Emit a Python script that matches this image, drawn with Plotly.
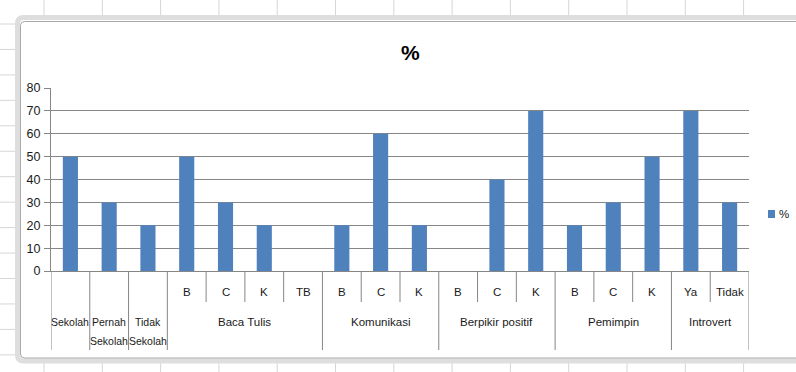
import plotly.graph_objects as go

# ---- data ----
categories = ["Sekolah", "Pernah Sekolah", "Tidak Sekolah",
              "B", "C", "K", "TB",
              "B", "C", "K",
              "B", "C", "K",
              "B", "C", "K",
              "Ya", "Tidak"]
groups = [None, None, None,
          "Baca Tulis", "Baca Tulis", "Baca Tulis", "Baca Tulis",
          "Komunikasi", "Komunikasi", "Komunikasi",
          "Berpikir positif", "Berpikir positif", "Berpikir positif",
          "Pemimpin", "Pemimpin", "Pemimpin",
          "Introvert", "Introvert"]
values = [50, 30, 20, 50, 30, 20, 0, 20, 60, 20, 0, 40, 70, 20, 30, 50, 70, 30]
series_name = "%"
y_ticks = [0, 10, 20, 30, 40, 50, 60, 70, 80]

# ---- geometry (pixels) ----
WIDTH, HEIGHT = 796, 372
L, R, T, B = 51, 47, 88, 101
PW = WIDTH - L - R
PH = HEIGHT - T - B
FONT = "Liberation Sans, Arial, sans-serif"
BAR = "#4F81BD"
AXC = "#868686"
TXT = "#1a1a1a"


def px(x):
    return (x - L) / PW


def py(y):
    return (HEIGHT - B - y) / PH


n = len(categories)
xs = list(range(n))

fig = go.Figure()
fig.add_trace(go.Bar(x=xs, y=values, name=series_name, marker_color=BAR,
                     marker_line_width=0, showlegend=False))

shapes = []
annotations = []

# spreadsheet background grid
grid_c = "#d6d6d6"
xg = 44.0
while xg < WIDTH:
    shapes.append(dict(type="line", xref="paper", yref="paper", x0=px(xg), x1=px(xg),
                       y0=py(0), y1=py(17), line=dict(color=grid_c, width=1), layer="below"))
    shapes.append(dict(type="line", xref="paper", yref="paper", x0=px(xg), x1=px(xg),
                       y0=py(362), y1=py(372), line=dict(color=grid_c, width=1), layer="below"))
    xg += 58.3
yg = 24.0
while yg < HEIGHT:
    shapes.append(dict(type="line", xref="paper", yref="paper", x0=px(0), x1=px(16),
                       y0=py(yg), y1=py(yg), line=dict(color=grid_c, width=1), layer="below"))
    yg += 25.45

# chart frame
def frame_path(x0, y0, x1, y1, r):
    return (f"M {px(x0 + r)},{py(y0)} L {px(x1)},{py(y0)} L {px(x1)},{py(y1)} "
            f"L {px(x0 + r)},{py(y1)} Q {px(x0)},{py(y1)} {px(x0)},{py(y1 - r)} "
            f"L {px(x0)},{py(y0 + r)} Q {px(x0)},{py(y0)} {px(x0 + r)},{py(y0)} Z")

shapes.append(dict(type="path", xref="paper", yref="paper", path=frame_path(17.5, 17.5, 800, 361, 6),
                   line=dict(color="#dedede", width=5), fillcolor="white", layer="below"))
shapes.append(dict(type="path", xref="paper", yref="paper", path=frame_path(20.5, 21.5, 800, 358, 4),
                   line=dict(color="#a8a8a8", width=1), fillcolor="rgba(0,0,0,0)", layer="below"))

# category axis dividers
y_axis_px = HEIGHT - B
for i in range(n + 1):
    pos = i - 0.5
    if i == 0 or i == n:
        full = True
    else:
        full = groups[i] is None or groups[i - 1] is None or groups[i] != groups[i - 1]
    y_end = 350 if full else 302
    shapes.append(dict(type="line", xref="x", yref="paper", x0=pos, x1=pos,
                       y0=py(y_axis_px), y1=py(y_end), line=dict(color=AXC, width=1)))

# category labels
for i, c in enumerate(categories):
    if groups[i] is None:
        for k, part in enumerate(c.split(" ")):
            annotations.append(dict(x=i, xref="x", y=py(322 + 19 * k), yref="paper", yanchor="middle",
                                    text=part, showarrow=False,
                                    font=dict(family=FONT, size=10.5, color=TXT)))
    else:
        annotations.append(dict(x=i, xref="x", y=py(292), yref="paper", yanchor="middle",
                                text=c, showarrow=False,
                                font=dict(family=FONT, size=11.5, color=TXT)))

# group labels
seen = []
for g in groups:
    if g is not None and g not in seen:
        seen.append(g)
for g in seen:
    idx = [i for i, gg in enumerate(groups) if gg == g]
    center = (idx[0] + idx[-1]) / 2
    annotations.append(dict(x=center, xref="x", y=py(322), yref="paper", yanchor="middle",
                            text=g, showarrow=False,
                            font=dict(family=FONT, size=11.5, color=TXT)))

# title
annotations.append(dict(x=px(410), y=py(52), xref="paper", yref="paper", text="<b>%</b>",
                        showarrow=False, xanchor="center", yanchor="middle",
                        font=dict(family=FONT, size=21, color="#000")))

# legend (manual)
shapes.append(dict(type="rect", xref="paper", yref="paper", x0=px(768), x1=px(775),
                   y0=py(218), y1=py(210), fillcolor=BAR, line=dict(width=0)))
annotations.append(dict(x=px(777), y=py(214), xref="paper", yref="paper", text=series_name,
                        showarrow=False, xanchor="left", yanchor="middle",
                        font=dict(family=FONT, size=11.5, color=TXT)))

fig.update_layout(
    width=WIDTH, height=HEIGHT,
    margin=dict(l=L, r=R, t=T, b=B, pad=0),
    paper_bgcolor="white", plot_bgcolor="rgba(0,0,0,0)",
    bargap=0.61,
    shapes=shapes, annotations=annotations,
    xaxis=dict(range=[-0.5, n - 0.5], showticklabels=False, showgrid=False, zeroline=False,
               showline=True, linecolor=AXC, linewidth=1, ticks="", fixedrange=True),
    yaxis=dict(range=[0, 80], tickvals=y_ticks, showgrid=True, gridcolor=AXC, gridwidth=1,
               zeroline=False, showline=True, linecolor=AXC, linewidth=1,
               ticks="outside", ticklen=6, tickcolor=AXC, ticklabelstandoff=1,
               tickfont=dict(family=FONT, size=12.5, color=TXT), fixedrange=True),
    font=dict(family=FONT),
)

fig.write_html("out.html", config={"displayModeBar": False})
